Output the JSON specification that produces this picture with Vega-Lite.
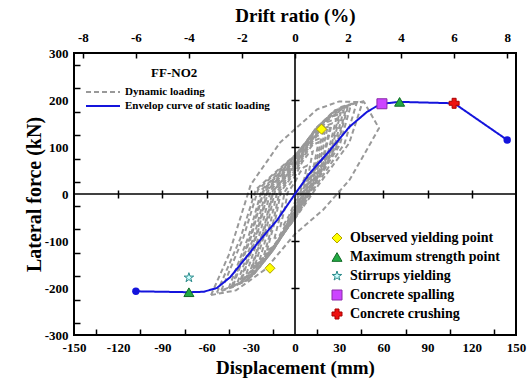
{
  "$schema": "https://vega.github.io/schema/vega-lite/v6.json",
  "width": 442,
  "height": 282,
  "autosize": "none",
  "padding": {"left": 74, "top": 53, "right": 13, "bottom": 50},
  "background": "white",
  "config": {
    "view": {"stroke": "black", "strokeWidth": 2},
    "font": "Liberation Serif"
  },
  "datasets": {
    "loops": [
      {"l":1,"i":0,"x":-10,"y":-70},{"l":1,"i":1,"x":-7,"y":-31.5},{"l":1,"i":2,"x":-5,"y":3},{"l":1,"i":3,"x":0,"y":25.2},{"l":1,"i":4,"x":3.2,"y":45},{"l":1,"i":5,"x":6,"y":57},{"l":1,"i":6,"x":8,"y":60},{"l":1,"i":7,"x":6.4,"y":33},{"l":1,"i":8,"x":2.4,"y":3},{"l":1,"i":9,"x":0,"y":-17.5},{"l":1,"i":10,"x":-4,"y":-45.5},{"l":1,"i":11,"x":-7.5,"y":-65.1},{"l":1,"i":12,"x":-10,"y":-70},
      {"l":2,"i":0,"x":-14,"y":-95},{"l":2,"i":1,"x":-9.8,"y":-42.8},{"l":2,"i":2,"x":-7,"y":4.5},{"l":2,"i":3,"x":0,"y":37.8},{"l":2,"i":4,"x":4.8,"y":67.5},{"l":2,"i":5,"x":9,"y":85.5},{"l":2,"i":6,"x":12,"y":90},{"l":2,"i":7,"x":9.6,"y":49.5},{"l":2,"i":8,"x":3.6,"y":4.5},{"l":2,"i":9,"x":0,"y":-23.8},{"l":2,"i":10,"x":-5.6,"y":-61.8},{"l":2,"i":11,"x":-10.5,"y":-88.4},{"l":2,"i":12,"x":-14,"y":-95},
      {"l":3,"i":0,"x":-19,"y":-120},{"l":3,"i":1,"x":-13.3,"y":-54},{"l":3,"i":2,"x":-9.5,"y":5.5},{"l":3,"i":3,"x":0,"y":46.2},{"l":3,"i":4,"x":6.4,"y":82.5},{"l":3,"i":5,"x":12,"y":104.5},{"l":3,"i":6,"x":16,"y":110},{"l":3,"i":7,"x":12.8,"y":60.5},{"l":3,"i":8,"x":4.8,"y":5.5},{"l":3,"i":9,"x":0,"y":-30},{"l":3,"i":10,"x":-7.6,"y":-78},{"l":3,"i":11,"x":-14.3,"y":-111.6},{"l":3,"i":12,"x":-19,"y":-120},
      {"l":4,"i":0,"x":-24,"y":-140},{"l":4,"i":1,"x":-16.8,"y":-63},{"l":4,"i":2,"x":-12,"y":6.5},{"l":4,"i":3,"x":0,"y":54.6},{"l":4,"i":4,"x":8,"y":97.5},{"l":4,"i":5,"x":15,"y":123.5},{"l":4,"i":6,"x":20,"y":130},{"l":4,"i":7,"x":16,"y":71.5},{"l":4,"i":8,"x":6,"y":6.5},{"l":4,"i":9,"x":0,"y":-35},{"l":4,"i":10,"x":-9.6,"y":-91},{"l":4,"i":11,"x":-18,"y":-130.2},{"l":4,"i":12,"x":-24,"y":-140},
      {"l":5,"i":0,"x":-30,"y":-160},{"l":5,"i":1,"x":-21,"y":-72},{"l":5,"i":2,"x":-15,"y":7.5},{"l":5,"i":3,"x":0,"y":63},{"l":5,"i":4,"x":10,"y":112.5},{"l":5,"i":5,"x":18.8,"y":142.5},{"l":5,"i":6,"x":25,"y":150},{"l":5,"i":7,"x":20,"y":82.5},{"l":5,"i":8,"x":7.5,"y":7.5},{"l":5,"i":9,"x":0,"y":-40},{"l":5,"i":10,"x":-12,"y":-104},{"l":5,"i":11,"x":-22.5,"y":-148.8},{"l":5,"i":12,"x":-30,"y":-160},
      {"l":6,"i":0,"x":-36,"y":-180},{"l":6,"i":1,"x":-25.2,"y":-81},{"l":6,"i":2,"x":-18,"y":8.5},{"l":6,"i":3,"x":0,"y":71.4},{"l":6,"i":4,"x":12,"y":127.5},{"l":6,"i":5,"x":22.5,"y":161.5},{"l":6,"i":6,"x":30,"y":170},{"l":6,"i":7,"x":24,"y":93.5},{"l":6,"i":8,"x":9,"y":8.5},{"l":6,"i":9,"x":0,"y":-45},{"l":6,"i":10,"x":-14.4,"y":-117},{"l":6,"i":11,"x":-27,"y":-167.4},{"l":6,"i":12,"x":-36,"y":-180},
      {"l":7,"i":0,"x":-42,"y":-195},{"l":7,"i":1,"x":-29.4,"y":-87.8},{"l":7,"i":2,"x":-21,"y":9.3},{"l":7,"i":3,"x":0,"y":77.7},{"l":7,"i":4,"x":14,"y":138.8},{"l":7,"i":5,"x":26.3,"y":175.8},{"l":7,"i":6,"x":35,"y":185},{"l":7,"i":7,"x":28,"y":101.8},{"l":7,"i":8,"x":10.5,"y":9.3},{"l":7,"i":9,"x":0,"y":-48.8},{"l":7,"i":10,"x":-16.8,"y":-126.8},{"l":7,"i":11,"x":-31.5,"y":-181.4},{"l":7,"i":12,"x":-42,"y":-195},
      {"l":8,"i":0,"x":-50,"y":-205},{"l":8,"i":1,"x":-35,"y":-92.3},{"l":8,"i":2,"x":-25,"y":9.8},{"l":8,"i":3,"x":0,"y":81.9},{"l":8,"i":4,"x":16.8,"y":146.3},{"l":8,"i":5,"x":31.5,"y":185.3},{"l":8,"i":6,"x":42,"y":195},{"l":8,"i":7,"x":33.6,"y":107.3},{"l":8,"i":8,"x":12.6,"y":9.8},{"l":8,"i":9,"x":0,"y":-51.3},{"l":8,"i":10,"x":-20,"y":-133.3},{"l":8,"i":11,"x":-37.5,"y":-190.7},{"l":8,"i":12,"x":-50,"y":-205},
      {"l":9,"i":0,"x":-57,"y":-215},{"l":9,"i":1,"x":-45,"y":-130},{"l":9,"i":2,"x":-30,"y":20},{"l":9,"i":3,"x":-10,"y":110},{"l":9,"i":4,"x":15,"y":180},{"l":9,"i":5,"x":30,"y":197},{"l":9,"i":6,"x":47,"y":195},{"l":9,"i":7,"x":57,"y":140},{"l":9,"i":8,"x":48,"y":90},{"l":9,"i":9,"x":37,"y":30},{"l":9,"i":10,"x":19,"y":-34},{"l":9,"i":11,"x":0,"y":-85},{"l":9,"i":12,"x":-20,"y":-160},{"l":9,"i":13,"x":-40,"y":-205},{"l":9,"i":14,"x":-57,"y":-215},
      {"l":10,"i":0,"x":-27,"y":-150},{"l":10,"i":1,"x":-18.9,"y":-67.5},{"l":10,"i":2,"x":-13.5,"y":7},{"l":10,"i":3,"x":0,"y":58.8},{"l":10,"i":4,"x":8.8,"y":105},{"l":10,"i":5,"x":16.5,"y":133},{"l":10,"i":6,"x":22,"y":140},{"l":10,"i":7,"x":17.6,"y":77},{"l":10,"i":8,"x":6.6,"y":7},{"l":10,"i":9,"x":0,"y":-37.5},{"l":10,"i":10,"x":-10.8,"y":-97.5},{"l":10,"i":11,"x":-20.3,"y":-139.5},{"l":10,"i":12,"x":-27,"y":-150},
      {"l":11,"i":0,"x":-33,"y":-170},{"l":11,"i":1,"x":-23.1,"y":-76.5},{"l":11,"i":2,"x":-16.5,"y":8},{"l":11,"i":3,"x":0,"y":67.2},{"l":11,"i":4,"x":11.2,"y":120},{"l":11,"i":5,"x":21,"y":152},{"l":11,"i":6,"x":28,"y":160},{"l":11,"i":7,"x":22.4,"y":88},{"l":11,"i":8,"x":8.4,"y":8},{"l":11,"i":9,"x":0,"y":-42.5},{"l":11,"i":10,"x":-13.2,"y":-110.5},{"l":11,"i":11,"x":-24.8,"y":-158.1},{"l":11,"i":12,"x":-33,"y":-170},
      {"l":12,"i":0,"x":-39,"y":-188},{"l":12,"i":1,"x":-27.3,"y":-84.6},{"l":12,"i":2,"x":-19.5,"y":8.9},{"l":12,"i":3,"x":0,"y":74.8},{"l":12,"i":4,"x":13.2,"y":133.5},{"l":12,"i":5,"x":24.8,"y":169.1},{"l":12,"i":6,"x":33,"y":178},{"l":12,"i":7,"x":26.4,"y":97.9},{"l":12,"i":8,"x":9.9,"y":8.9},{"l":12,"i":9,"x":0,"y":-47},{"l":12,"i":10,"x":-15.6,"y":-122.2},{"l":12,"i":11,"x":-29.3,"y":-174.8},{"l":12,"i":12,"x":-39,"y":-188},
      {"l":13,"i":0,"x":-45,"y":-200},{"l":13,"i":1,"x":-31.5,"y":-90},{"l":13,"i":2,"x":-22.5,"y":9.5},{"l":13,"i":3,"x":0,"y":79.8},{"l":13,"i":4,"x":15.2,"y":142.5},{"l":13,"i":5,"x":28.5,"y":180.5},{"l":13,"i":6,"x":38,"y":190},{"l":13,"i":7,"x":30.4,"y":104.5},{"l":13,"i":8,"x":11.4,"y":9.5},{"l":13,"i":9,"x":0,"y":-50},{"l":13,"i":10,"x":-18,"y":-130},{"l":13,"i":11,"x":-33.8,"y":-186},{"l":13,"i":12,"x":-45,"y":-200},
      {"l":14,"i":0,"x":-53,"y":-210},{"l":14,"i":1,"x":-37.1,"y":-94.5},{"l":14,"i":2,"x":-26.5,"y":9.9},{"l":14,"i":3,"x":0,"y":82.7},{"l":14,"i":4,"x":18.4,"y":147.8},{"l":14,"i":5,"x":34.5,"y":187.2},{"l":14,"i":6,"x":46,"y":197},{"l":14,"i":7,"x":36.8,"y":108.4},{"l":14,"i":8,"x":13.8,"y":9.9},{"l":14,"i":9,"x":0,"y":-52.5},{"l":14,"i":10,"x":-21.2,"y":-136.5},{"l":14,"i":11,"x":-39.8,"y":-195.3},{"l":14,"i":12,"x":-53,"y":-210},
      {"l":15,"i":0,"x":-21,"y":-130},{"l":15,"i":1,"x":-14.7,"y":-58.5},{"l":15,"i":2,"x":-10.5,"y":6},{"l":15,"i":3,"x":0,"y":50.4},{"l":15,"i":4,"x":7.2,"y":90},{"l":15,"i":5,"x":13.5,"y":114},{"l":15,"i":6,"x":18,"y":120},{"l":15,"i":7,"x":14.4,"y":66},{"l":15,"i":8,"x":5.4,"y":6},{"l":15,"i":9,"x":0,"y":-32.5},{"l":15,"i":10,"x":-8.4,"y":-84.5},{"l":15,"i":11,"x":-15.8,"y":-120.9},{"l":15,"i":12,"x":-21,"y":-130},
      {"l":16,"i":0,"x":-29,"y":-155},{"l":16,"i":1,"x":-20.3,"y":-69.8},{"l":16,"i":2,"x":-14.5,"y":7.3},{"l":16,"i":3,"x":0,"y":60.9},{"l":16,"i":4,"x":9.6,"y":108.8},{"l":16,"i":5,"x":18,"y":137.8},{"l":16,"i":6,"x":24,"y":145},{"l":16,"i":7,"x":19.2,"y":79.8},{"l":16,"i":8,"x":7.2,"y":7.3},{"l":16,"i":9,"x":0,"y":-38.8},{"l":16,"i":10,"x":-11.6,"y":-100.8},{"l":16,"i":11,"x":-21.8,"y":-144.2},{"l":16,"i":12,"x":-29,"y":-155},
      {"l":17,"i":0,"x":-37,"y":-183},{"l":17,"i":1,"x":-25.9,"y":-82.4},{"l":17,"i":2,"x":-18.5,"y":8.6},{"l":17,"i":3,"x":0,"y":72.2},{"l":17,"i":4,"x":12.4,"y":129},{"l":17,"i":5,"x":23.3,"y":163.4},{"l":17,"i":6,"x":31,"y":172},{"l":17,"i":7,"x":24.8,"y":94.6},{"l":17,"i":8,"x":9.3,"y":8.6},{"l":17,"i":9,"x":0,"y":-45.8},{"l":17,"i":10,"x":-14.8,"y":-119},{"l":17,"i":11,"x":-27.8,"y":-170.2},{"l":17,"i":12,"x":-37,"y":-183},
      {"l":18,"i":0,"x":-43,"y":-197},{"l":18,"i":1,"x":-30.1,"y":-88.7},{"l":18,"i":2,"x":-21.5,"y":9.4},{"l":18,"i":3,"x":0,"y":78.5},{"l":18,"i":4,"x":14.4,"y":140.3},{"l":18,"i":5,"x":27,"y":177.7},{"l":18,"i":6,"x":36,"y":187},{"l":18,"i":7,"x":28.8,"y":102.9},{"l":18,"i":8,"x":10.8,"y":9.4},{"l":18,"i":9,"x":0,"y":-49.3},{"l":18,"i":10,"x":-17.2,"y":-128.1},{"l":18,"i":11,"x":-32.3,"y":-183.2},{"l":18,"i":12,"x":-43,"y":-197}
    ],
    "env": [
      {"x":-108,"y":-207},{"x":-72,"y":-209},{"x":-62,"y":-208},{"x":-53,"y":-200},{"x":-44,"y":-177},{"x":-35,"y":-142},{"x":-24,"y":-99},{"x":-12,"y":-55},{"x":0,"y":0},{"x":10,"y":44},{"x":24,"y":94},{"x":37,"y":143},{"x":49,"y":175},{"x":55,"y":186},{"x":59,"y":192},{"x":71,"y":196},{"x":108,"y":193},{"x":144,"y":115}
    ],
    "ends": [
      {"x":-108,"y":-207},{"x":144,"y":115}
    ],
    "marks": [
      {"x":18,"y":138,"event":"Observed yielding point"},
      {"x":-17,"y":-158,"event":"Observed yielding point"},
      {"x":71,"y":196,"event":"Maximum strength point"},
      {"x":-72,"y":-209,"event":"Maximum strength point"},
      {"x":-72,"y":-178,"event":"Stirrups yielding"},
      {"x":59,"y":192,"event":"Concrete spalling"},
      {"x":108,"y":193,"event":"Concrete crushing"}
    ]
  },
  "resolve": {"axis": {"x": "independent", "y": "independent"}},
  "layer": [
    {
      "data": {"name": "loops"},
      "mark": {"type": "line", "strokeWidth": 2},
      "encoding": {
        "x": {"field": "x", "type": "quantitative",
          "scale": {"domain": [-150, 150], "nice": false, "zero": false},
          "axis": {"orient": "bottom", "values": [-150,-120,-90,-60,-30,0,30,60,90,120,150],
            "labelExpr": "'' + datum.value", "ticks": false, "domain": false, "grid": false,
            "labelFont": "Liberation Serif", "labelFontSize": 13, "labelFontWeight": "bold", "labelColor": "black",
            "labelPadding": 6, "labelFlush": false, "labelOverlap": false,
            "title": "Displacement (mm)", "titleFont": "Liberation Serif", "titleFontSize": 19, "titleFontWeight": "bold", "titleColor": "black", "titlePadding": 4}},
        "y": {"field": "y", "type": "quantitative",
          "scale": {"domain": [-300, 300], "nice": false, "zero": false},
          "axis": {"orient": "left", "values": [-300,-200,-100,0,100,200,300],
            "labelExpr": "'' + datum.value", "ticks": false, "domain": false, "grid": false,
            "labelFont": "Liberation Serif", "labelFontSize": 13, "labelFontWeight": "bold", "labelColor": "black",
            "labelPadding": 6, "labelFlush": false, "labelOverlap": false,
            "title": "Lateral force (kN)", "titleFont": "Liberation Serif", "titleFontSize": 20, "titleFontWeight": "bold", "titleColor": "black", "titlePadding": 0}},
        "detail": {"field": "l", "type": "nominal"},
        "order": {"field": "i", "type": "quantitative"},
        "color": {"datum": "Dynamic loading",
          "scale": {"domain": ["Dynamic loading", "Envelop curve of static loading"], "range": ["#999999", "#1414dc"]},
          "legend": {"title": null, "orient": "none", "legendX": 23, "legendY": 33, "padding": 0,
            "labelFont": "Liberation Serif", "labelFontSize": 11, "labelFontWeight": "bold", "labelColor": "black",
            "symbolType": "M-3.4,0H3.4", "symbolSize": 100, "symbolStrokeWidth": 2, "labelOffset": 16, "rowPadding": 3}},
        "strokeDash": {"datum": "Dynamic loading",
          "scale": {"domain": ["Dynamic loading", "Envelop curve of static loading"], "range": [[5, 3], [1, 0]]},
          "legend": {"title": null, "orient": "none", "legendX": 23, "legendY": 33, "padding": 0,
            "labelFont": "Liberation Serif", "labelFontSize": 11, "labelFontWeight": "bold", "labelColor": "black",
            "symbolType": "M-3.4,0H3.4", "symbolSize": 100, "symbolStrokeWidth": 2, "labelOffset": 16, "rowPadding": 3}}
      }
    },
    {
      "data": {"values": [{}]},
      "mark": {"type": "rule", "color": "black", "strokeWidth": 1.6},
      "encoding": {
        "y": {"datum": 0, "type": "quantitative", "scale": {"domain": [-300, 300], "nice": false, "zero": false}, "axis": null}
      }
    },
    {
      "data": {"values": [{}]},
      "mark": {"type": "rule", "color": "black", "strokeWidth": 1.6},
      "encoding": {
        "x": {"datum": 0, "type": "quantitative", "scale": {"domain": [-150, 150], "nice": false, "zero": false}, "axis": null}
      }
    },
    {
      "data": {"values": [{}]},
      "mark": {"type": "text", "font": "Liberation Serif", "fontSize": 13, "fontWeight": "bold", "color": "black", "align": "center", "baseline": "middle"},
      "encoding": {
        "x": {"datum": -82, "type": "quantitative", "scale": {"domain": [-150, 150], "nice": false, "zero": false}, "axis": null},
        "y": {"datum": 257, "type": "quantitative", "scale": {"domain": [-300, 300], "nice": false, "zero": false}, "axis": null},
        "text": {"value": "FF-NO2"}
      }
    },
    {
      "data": {"name": "env"},
      "mark": {"type": "line", "strokeWidth": 2},
      "encoding": {
        "x": {"field": "x", "type": "quantitative",
          "scale": {"domain": [-150, 150], "nice": false, "zero": false},
          "axis": {"orient": "bottom", "values": [-135,-105,-75,-45,-15,15,45,75,105,135],
            "labels": false, "domain": false, "grid": false, "ticks": true, "tickSize": -6, "tickWidth": 1.5, "tickColor": "black", "title": null}},
        "y": {"field": "y", "type": "quantitative",
          "scale": {"domain": [-300, 300], "nice": false, "zero": false},
          "axis": {"orient": "left", "values": [-275,-225,-175,-125,-75,-25,25,75,125,175,225,275],
            "labels": false, "domain": false, "grid": false, "ticks": true, "tickSize": -6, "tickWidth": 1.5, "tickColor": "black", "title": null}},
        "color": {"datum": "Envelop curve of static loading",
          "scale": {"domain": ["Dynamic loading", "Envelop curve of static loading"], "range": ["#999999", "#1414dc"]}},
        "strokeDash": {"datum": "Envelop curve of static loading",
          "scale": {"domain": ["Dynamic loading", "Envelop curve of static loading"], "range": [[5, 3], [1, 0]]}}
      }
    },
    {
      "data": {"name": "ends"},
      "mark": {"type": "point", "filled": true, "opacity": 1, "size": 55, "shape": "circle", "color": "#1414dc"},
      "encoding": {
        "x": {"field": "x", "type": "quantitative",
          "scale": {"domain": [-150, 150], "nice": false, "zero": false},
          "axis": {"orient": "bottom", "offset": -137, "values": [-120,-90,-60,-30,30,60,90,120],
            "labels": false, "domain": false, "grid": false, "ticks": true, "tickSize": -8, "tickWidth": 1.5, "tickColor": "black", "title": null}},
        "y": {"field": "y", "type": "quantitative",
          "scale": {"domain": [-300, 300], "nice": false, "zero": false}, "axis": null}
      }
    },
    {
      "data": {"name": "marks"},
      "mark": {"type": "point", "filled": true, "opacity": 1, "size": 100, "strokeWidth": 1},
      "encoding": {
        "x": {"field": "x", "type": "quantitative",
          "scale": {"domain": [-150, 150], "nice": false, "zero": false},
          "axis": {"orient": "top", "values": [-144,-108,-72,-36,0,36,72,108,144],
            "labelExpr": "'' + round(datum.value / 18)", "domain": false, "grid": false,
            "ticks": true, "tickSize": -5, "tickWidth": 1.5, "tickColor": "black",
            "labelFont": "Liberation Serif", "labelFontSize": 13, "labelFontWeight": "bold", "labelColor": "black",
            "labelPadding": 14, "labelFlush": false, "labelOverlap": false,
            "title": "Drift ratio (%)", "titleFont": "Liberation Serif", "titleFontSize": 19, "titleFontWeight": "bold", "titleColor": "black", "titlePadding": 6}},
        "y": {"field": "y", "type": "quantitative",
          "scale": {"domain": [-300, 300], "nice": false, "zero": false},
          "axis": {"orient": "left", "offset": -217, "values": [-200,-100,100,200],
            "labels": false, "domain": false, "grid": false, "ticks": true, "tickSize": -8, "tickWidth": 1.5, "tickColor": "black", "title": null}},
        "shape": {"field": "event", "type": "nominal",
          "scale": {"domain": ["Observed yielding point","Maximum strength point","Stirrups yielding","Concrete spalling","Concrete crushing"],
            "range": ["diamond","triangle-up","M0,-1L0.2245,-0.309L0.951,-0.309L0.3633,0.118L0.5878,0.809L0,0.382L-0.5878,0.809L-0.3633,0.118L-0.951,-0.309L-0.2245,-0.309Z","square","cross"]},
          "legend": {"title": null, "orient": "none", "legendX": 256, "legendY": 178, "padding": 0,
            "labelFont": "Liberation Serif", "labelFontSize": 14, "labelFontWeight": "bold", "labelColor": "black",
            "symbolSize": 100, "symbolStrokeWidth": 1, "labelOffset": 6, "rowPadding": 5}},
        "fill": {"field": "event", "type": "nominal",
          "scale": {"domain": ["Observed yielding point","Maximum strength point","Stirrups yielding","Concrete spalling","Concrete crushing"],
            "range": ["#ffff00","#22aa44","#ccffff","#cc44ff","#ee1111"]},
          "legend": {"title": null, "orient": "none", "legendX": 256, "legendY": 178, "padding": 0,
            "labelFont": "Liberation Serif", "labelFontSize": 14, "labelFontWeight": "bold", "labelColor": "black",
            "symbolSize": 100, "symbolStrokeWidth": 1, "labelOffset": 6, "rowPadding": 5}},
        "stroke": {"field": "event", "type": "nominal",
          "scale": {"domain": ["Observed yielding point","Maximum strength point","Stirrups yielding","Concrete spalling","Concrete crushing"],
            "range": ["#b0a000","#126b26","#2a8a8a","#8a2aa8","#aa0000"]},
          "legend": {"title": null, "orient": "none", "legendX": 256, "legendY": 178, "padding": 0,
            "labelFont": "Liberation Serif", "labelFontSize": 14, "labelFontWeight": "bold", "labelColor": "black",
            "symbolSize": 100, "symbolStrokeWidth": 1, "labelOffset": 6, "rowPadding": 5}}
      }
    }
  ]
}
